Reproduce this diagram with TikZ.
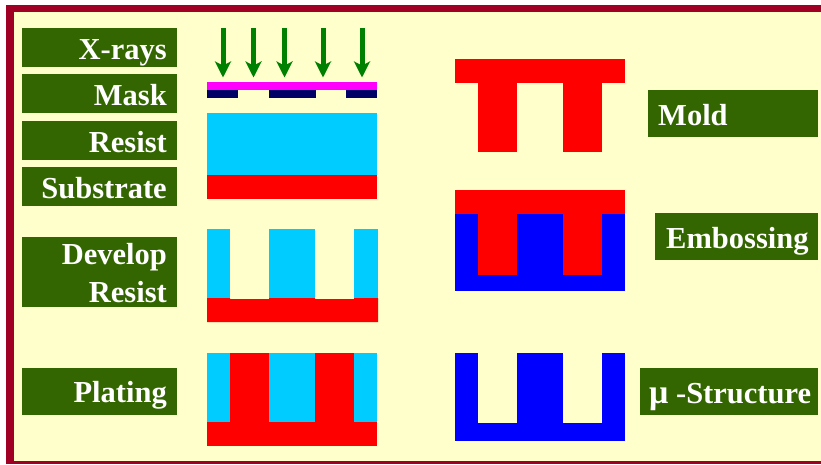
\documentclass[tikz,border=0pt]{standalone}
\usepackage{fontspec}
\setmainfont{Liberation Serif}
\usetikzlibrary{arrows.meta}
\definecolor{framered}{RGB}{160,0,36}
\definecolor{paper}{RGB}{255,255,204}
\definecolor{labelgreen}{RGB}{51,102,0}
\definecolor{resist}{RGB}{0,204,255}
\definecolor{maskdark}{RGB}{0,0,102}
\definecolor{maskpink}{RGB}{255,0,255}
\definecolor{raygreen}{RGB}{0,128,0}
\definecolor{platered}{RGB}{255,0,0}
\definecolor{embossblue}{RGB}{0,0,255}
\tikzset{
  labelbox/.style={fill=labelgreen},
  labeltext/.style={text=white,inner sep=0pt,font=\fontsize{30.5}{38}\selectfont\bfseries},
  ray/.style={draw=raygreen,line width=5pt,-{Stealth[length=16pt,width=16pt,inset=4pt]}}
}
\begin{document}
\begin{tikzpicture}[x=1pt,y=-1pt]
\useasboundingbox (0,0) rectangle (821,464);
% frame
\fill[framered] (6,5) rectangle (821,464);
\fill[paper] (14,12) rectangle (821,461);
% label boxes
\fill[labelbox] (22,28) rectangle (177,67);
\fill[labelbox] (22,74) rectangle (177,113);
\fill[labelbox] (22,121) rectangle (177,160);
\fill[labelbox] (22,167) rectangle (177,206);
\fill[labelbox] (22,237) rectangle (177,307);
\fill[labelbox] (22,368) rectangle (177,415);
\fill[labelbox] (648,90) rectangle (818,137);
\fill[labelbox] (655,213) rectangle (818,260);
\fill[labelbox] (640,368) rectangle (818,415);
% label texts
\node[labeltext,anchor=base east] (tx) at (167,59) {X-rays};
\node[labeltext,anchor=base east] (tm) at (167,105) {Mask};
\node[labeltext,anchor=base east] (tr) at (167,152) {Resist};
\node[labeltext,anchor=base east] (ts) at (167,198) {Substrate};
\node[labeltext,anchor=base east] (td) at (167,264) {Develop};
\node[labeltext,anchor=base east] (td2) at (167,302) {Resist};
\node[labeltext,anchor=base east] (tp) at (167,402) {Plating};
\node[labeltext,anchor=base west] (tmo) at (658,125) {Mold};
\node[labeltext,anchor=base west] (te) at (666,248) {Embossing};
\node[labeltext,anchor=base west] (tmu) at (649,403) {{\fontsize{34}{38}\selectfont μ} -Structure};
% x-rays
\foreach \n/\x in {a/223,b/253.5,c/284.5,d/323,e/362}{
  \coordinate (r\n s) at (\x,28);
  \coordinate (r\n e) at (\x,77.5);
  \draw[ray] (r\n s) -- (r\n e);
}
% mask
\fill[maskpink] (207,82) rectangle (377,90);
\fill[maskdark] (207,90) rectangle (238,98);
\fill[maskdark] (269,90) rectangle (316,98);
\fill[maskdark] (346,90) rectangle (377,98);
% resist and substrate
\fill[resist] (207,113) rectangle (377,175);
\fill[platered] (207,175) rectangle (377,199);
% develop
\fill[resist] (207,229) rectangle (230,299);
\fill[resist] (269,229) rectangle (315,299);
\fill[resist] (354,229) rectangle (378,299);
\fill[platered] (207,298) -- (230,298) -- (230,299) -- (269,299) -- (269,298) -- (315,298)
  -- (315,299) -- (354,299) -- (354,298) -- (378,298) -- (378,322) -- (207,322) -- cycle;
% plating
\fill[resist] (207,353) rectangle (377,423);
\fill[platered] (230,353) rectangle (269,423);
\fill[platered] (315,353) rectangle (354,423);
\fill[platered] (207,422) rectangle (377,446);
% mold
\fill[platered] (455,59) rectangle (625,83);
\fill[platered] (478,82) rectangle (517,152);
\fill[platered] (563,82) rectangle (602,152);
% embossing
\fill[embossblue] (455,213) rectangle (625,291);
\fill[platered] (455,190) rectangle (625,214);
\fill[platered] (478,213) rectangle (517,275);
\fill[platered] (563,213) rectangle (602,275);
% micro-structure
\fill[embossblue] (455,423) rectangle (625,441);
\fill[embossblue] (455,353) rectangle (478,424);
\fill[embossblue] (517,353) rectangle (563,424);
\fill[embossblue] (602,353) rectangle (625,424);
\end{tikzpicture}
\end{document}
